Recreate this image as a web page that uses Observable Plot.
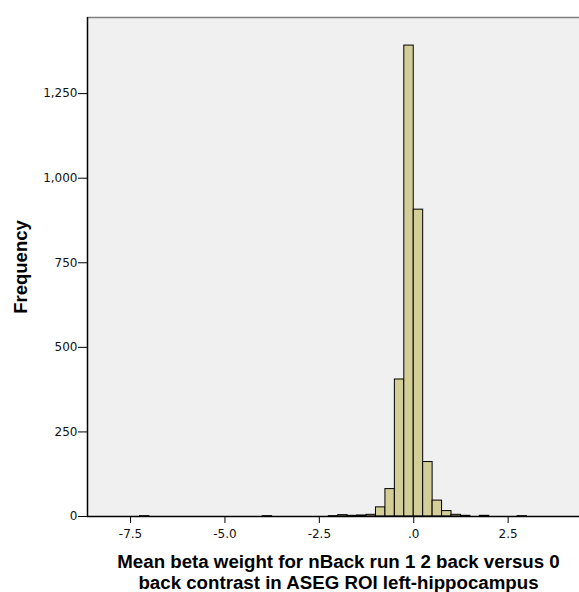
<!DOCTYPE html>
<html>
<head>
<meta charset="utf-8">
<script src="https://cdn.jsdelivr.net/npm/d3@7"></script>
<script src="https://cdn.jsdelivr.net/npm/@observablehq/plot@0.6"></script>
<style>
  html, body { margin: 0; padding: 0; background: #fff; }
  #chart svg { display: block; }
</style>
</head>
<body>
<div id="chart"></div>
<script>
// Histogram data (bin start, bin width 0.25)
const binStarts = [-7.25, -4.0, -2.25, -2.0, -1.75, -1.5, -1.25, -1.0, -0.75, -0.5, -0.25, 0.0, 0.25, 0.5, 0.75, 1.0, 1.25, 1.75, 2.75];
const counts    = [1, 1, 1, 4, 2, 3, 5, 27, 81, 405, 1392, 907, 161, 47, 16, 5, 2, 2, 1];
const binWidth = 0.25;
const xTicks = [-7.5, -5.0, -2.5, 0.0, 2.5];
const yTicks = [0, 250, 500, 750, 1000, 1250];
const xDomain = [-8.64, 4.39];
const yDomain = [0, 1475];
const xLabel = "Mean beta weight for nBack run 1 2 back versus 0\nback contrast in ASEG ROI left-hippocampus";
const yLabel = "Frequency";

const bins = binStarts.map((s, i) => ({x1: s, x2: s + binWidth, count: counts[i]}));

const fmtX = v => v === 0 ? ".0" : d3.format(".1f")(v).replace("\u2212", "-");

const chart = Plot.plot({
  width: 579,
  height: 592,
  marginLeft: 87,
  marginRight: 0,
  marginTop: 17,
  marginBottom: 76,
  style: {fontFamily: "'DejaVu Sans', sans-serif", fontSize: "12px", color: "#111", background: "#fff"},
  x: {domain: xDomain},
  y: {domain: yDomain},
  marks: [
    Plot.frame({fill: "#F0F0F0", stroke: null}),
    Plot.ruleY([yDomain[1]], {stroke: "#808080", strokeWidth: 1.5}),
    Plot.rectY(bins, {x1: "x1", x2: "x2", y: "count", fill: "#D3CE97", stroke: "#000", strokeWidth: 1}),
    Plot.ruleY([0], {stroke: "#000", strokeWidth: 1.5}),
    Plot.ruleX([xDomain[0]], {stroke: "#000", strokeWidth: 1.5}),
    Plot.axisX({ticks: xTicks, tickFormat: fmtX, tickSize: 7, tickPadding: 6, label: null, stroke: "#000"}),
    Plot.axisY({ticks: yTicks, tickFormat: d3.format(","), tickSize: 9, tickPadding: 1, label: null, stroke: "#000"}),
    Plot.text([xLabel], {frameAnchor: "bottom", lineAnchor: "top", dy: 37, dx: 5, text: d => d, fontFamily: "'Liberation Sans', Arial, sans-serif", fontWeight: "bold", fontSize: 18.7, lineHeight: 1.1, fill: "#000"}),
    Plot.text([yLabel], {frameAnchor: "left", textAnchor: "middle", lineAnchor: "middle", dx: -66, rotate: -90, text: d => d, fontFamily: "'Liberation Sans', Arial, sans-serif", fontWeight: "bold", fontSize: 18.5, fill: "#000"})
  ]
});
document.getElementById("chart").appendChild(chart);
</script>
</body>
</html>
